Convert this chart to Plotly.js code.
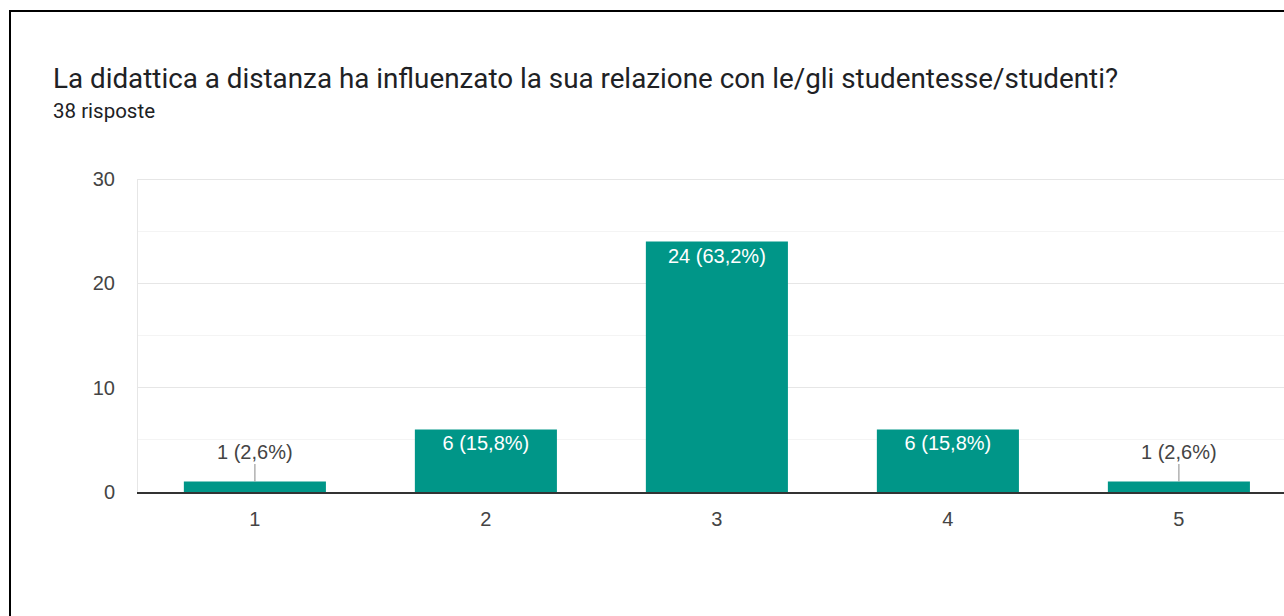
<!DOCTYPE html>
<html>
<head>
<meta charset="utf-8">
<script src="https://cdn.plot.ly/plotly-3.0.1.min.js"></script>
<style>
  html, body { margin: 0; padding: 0; background: #ffffff; overflow: hidden; }
  #wrap { position: relative; width: 1284px; height: 616px; overflow: hidden; }
  #frame { position: absolute; left: 9px; top: 10px; width: 1400px; height: 700px;
           border-left: 2px solid #000; border-top: 2px solid #000; pointer-events: none; z-index: 5; }
  #chart { position: absolute; left: 0; top: 0; width: 1284px; height: 616px; }
</style>
</head>
<body>
<div id="wrap">
  <div id="chart"></div>
  <div id="frame"></div>
</div>
<script>
const titleText = "La didattica a distanza ha influenzato la sua relazione con le/gli studentesse/studenti?";
const subtitleText = "38 risposte";
const categories = ["1", "2", "3", "4", "5"];
const counts = [1, 6, 24, 6, 1];
const percents = ["2,6", "15,8", "63,2", "15,8", "2,6"];
const yTickVals = [0, 10, 20, 30];

const labels = counts.map((c, i) => c + " (" + percents[i] + "%)");
const inside = counts.map(c => c >= 3);

const trace = {
  type: "bar",
  x: categories,
  y: counts,
  marker: { color: "#009688", line: { width: 0 } },
  text: labels.map((t, i) => inside[i] ? t : ""),
  textposition: "inside",
  insidetextanchor: "end",
  textangle: 0,
  textfont: { family: "Liberation Sans, Arial, sans-serif", size: 20, color: "#ffffff" },
  hoverinfo: "none",
  cliponaxis: false
};

const annotations = [];
counts.forEach((c, i) => {
  if (!inside[i]) {
    annotations.push({
      x: i, y: c, xref: "x", yref: "y",
      text: labels[i], showarrow: true, arrowhead: 0, arrowwidth: 1.2,
      arrowcolor: "#9e9e9e", ax: 0, ay: -30,
      font: { family: "Liberation Sans, Arial, sans-serif", size: 20, color: "#444444" }
    });
  }
});
annotations.push({
  xref: "paper", yref: "paper", x: (51 - 138) / 1146, y: (492 - 111) / 313, xanchor: "left", yanchor: "middle",
  text: subtitleText, showarrow: false,
  font: { family: "Roboto, sans-serif", size: 20.5, color: "#202124" }
});

const layout = {
  width: 1284, height: 616,
  margin: { l: 138, r: 0, t: 179, b: 124, pad: 0 },
  paper_bgcolor: "rgba(0,0,0,0)", plot_bgcolor: "#ffffff",
  showlegend: false,
  bargap: 0.385,
  title: {
    text: titleText, xref: "container", yref: "container",
    x: 53 / 1284, xanchor: "left", y: 1 - 78 / 616, yanchor: "middle",
    font: { family: "Roboto, sans-serif", size: 27.8, color: "#202124" }
  },
  xaxis: {
    type: "category", range: [-0.506, 4.455],
    showgrid: false, zeroline: false,
    showline: true, linecolor: "#333333", linewidth: 1.5,
    ticks: "", ticklabelstandoff: 8,
    tickfont: { family: "Liberation Sans, Arial, sans-serif", size: 20, color: "#444444" },
    fixedrange: true
  },
  yaxis: {
    range: [0, 30], tickvals: yTickVals, ticktext: yTickVals.map(String),
    showgrid: true, gridcolor: "#e6e6e6", gridwidth: 1,
    minor: { dtick: 5, tick0: 0, showgrid: true, gridcolor: "#f4f4f4", gridwidth: 1 },
    zeroline: false, showline: true, linecolor: "#e6e6e6", linewidth: 1,
    ticks: "", ticklabelstandoff: 18,
    tickfont: { family: "Liberation Sans, Arial, sans-serif", size: 20, color: "#444444" },
    fixedrange: true
  },
  shapes: [{
    type: "line", xref: "paper", yref: "y", x0: 0, x1: 1, y0: 30, y1: 30,
    line: { color: "#e6e6e6", width: 2 }, layer: "below"
  }],
  annotations: annotations
};

Plotly.newPlot("chart", [trace], layout, { displayModeBar: false, staticPlot: true });
</script>
</body>
</html>
